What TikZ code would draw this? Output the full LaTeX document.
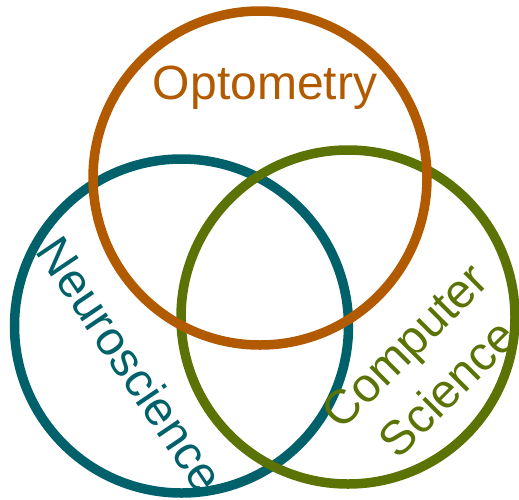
\documentclass[tikz,border=0pt]{standalone}
\usepackage{fontspec}
\setmainfont{Liberation Sans}
\definecolor{optoorange}{HTML}{B15A00}
\definecolor{neuroteal}{HTML}{00616A}
\definecolor{csgreen}{HTML}{5B7305}
\begin{document}
\begin{tikzpicture}[x=1pt,y=-1pt,
  ring/.style={circle, line width=9.5pt, minimum size=334pt, inner sep=0pt, outer sep=0pt},
  field/.style={font=\fontsize{48}{60}\selectfont, inner sep=0pt, align=center}]
\useasboundingbox (0,0) rectangle (519,499);
% the three discipline rings
\node[ring, draw=neuroteal] (neuro) at (181.5,326) {};
\node[ring, draw=csgreen] (cs) at (348,317) {};
\node[ring, draw=optoorange] (opto) at (260,178) {};
% labels
\node[field, text=optoorange, anchor=base] (optolabel) at (265,99) {Optometry};
\node[field, text=neuroteal, rotate=-56] (neurolabel) at (131,364) {Neuroscience};
\node[field, text=csgreen, rotate=45] (cslabel) at (426,367) {Computer\\Science};
\end{tikzpicture}
\end{document}
